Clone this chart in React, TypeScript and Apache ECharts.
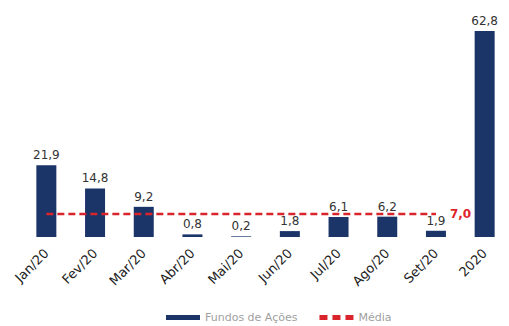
import React, { useEffect, useRef } from "react";
import * as echarts from "echarts";

const categories = ["Jan/20", "Fev/20", "Mar/20", "Abr/20", "Mai/20", "Jun/20", "Jul/20", "Ago/20", "Set/20", "2020"];
const fundosValues = [21.9, 14.8, 9.2, 0.8, 0.2, 1.8, 6.1, 6.2, 1.9, 62.8];
const mediaValues: (number | null)[] = [7.0, 7.0, 7.0, 7.0, 7.0, 7.0, 7.0, 7.0, 7.0, null];
const seriesNames = ["Fundos de Ações", "Média"];

const fmt = (v: number) => v.toFixed(1).replace(".", ",");

export default function App() {
  const ref = useRef<HTMLDivElement>(null);
  useEffect(() => {
    document.body.style.margin = "0";
    const chart = echarts.init(ref.current!, null, { renderer: "svg" });
    const lastIdx = mediaValues.reduce((acc: number, v, i) => (v != null ? i : acc), 0);
    const lastVal = mediaValues[lastIdx] as number;
    chart.setOption({
      animation: false,
      backgroundColor: "#ffffff",
      textStyle: { fontFamily: "DejaVu Sans" },
      grid: { left: 22, width: 496, top: 31, bottom: 89 },
      legend: {
        top: 312,
        left: 166,
        padding: 0,
        itemWidth: 34,
        itemHeight: 5,
        itemGap: 22,
        textStyle: { color: "#a0a0a0", fontSize: 11, fontFamily: "DejaVu Sans" },
        data: [
          { name: seriesNames[0], icon: "rect" },
          {
            name: seriesNames[1],
            icon: "path://M0,0h8v5h-8z M13,0h8v5h-8z M26,0h8v5h-8z",
            itemStyle: { color: "#d9242c" },
          },
        ],
      },
      xAxis: {
        type: "category",
        data: categories,
        axisLine: { show: false },
        axisTick: { show: false },
        axisLabel: {
          rotate: 45,
          color: "#222",
          fontSize: 13,
          margin: 14,
          interval: 0,
        },
      },
      yAxis: {
        type: "value",
        min: 0,
        max: 62.8,
        show: false,
        splitLine: { show: false },
      },
      series: [
        {
          name: seriesNames[0],
          type: "bar",
          data: fundosValues,
          barWidth: 20,
          itemStyle: { color: "#1c3568" },
          label: {
            show: true,
            position: "top",
            distance: 4,
            color: "#333",
            fontSize: 12,
            formatter: (p: any) => fmt(p.value),
          },
        },
        {
          name: seriesNames[1],
          type: "line",
          data: mediaValues,
          symbol: "none",
          lineStyle: { color: "#d9242c", width: 2.5, type: [7, 4] },
          itemStyle: { color: "#d9242c" },
          z: 5,
          markPoint: {
            symbol: "circle",
            symbolSize: 0,
            data: [{ coord: [lastIdx, lastVal], value: lastVal }],
            label: {
              show: true,
              position: "right",
              distance: 14,
              color: "#e0242c",
              fontWeight: "bold",
              fontSize: 12,
              formatter: () => fmt(lastVal),
            },
          },
        },
      ],
    });
    return () => chart.dispose();
  }, []);
  return <div ref={ref} style={{ width: 509, height: 326 }} />;
}
